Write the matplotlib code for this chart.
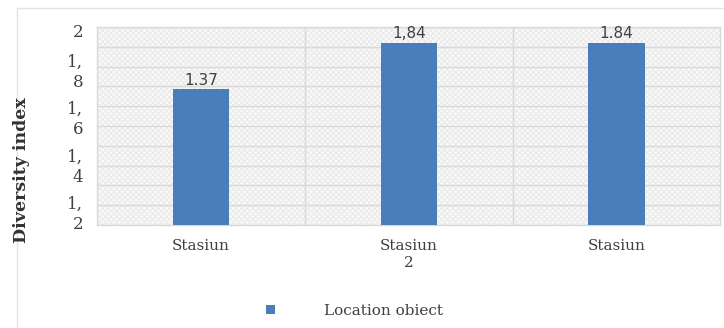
import numpy as np
import matplotlib
matplotlib.use("Agg")
import matplotlib.pyplot as plt
from matplotlib.patches import Rectangle

# -----------------------------
# Data
# -----------------------------
stations = ["Stasiun", "Stasiun\n2", "Stasiun"]
diversity = [1.37, 1.84, 1.84]
value_labels = ["1.37", "1,84", "1.84"]

# tick labels as printed on the source chart (wrapped text)
ytick_labels = ["2", "1,\n8", "1,\n6", "1,\n4", "1,\n2"]
ytick_pos = [1.96, 1.58, 1.10, 0.62, 0.14]

BAR_COLOR = "#4a7ebb"
TEXT_COLOR = "#404040"
GRID_COLOR = "#d9d9d9"

plt.rcParams["font.family"] = ["DejaVu Serif"]

# -----------------------------
# Plot
# -----------------------------
fig = plt.figure(figsize=(7.24, 3.28), dpi=100)
ax = fig.add_axes([0.134, 0.314, 0.861, 0.604])

# outer chart frame
fig.patches.append(Rectangle((0.024, -0.05), 1.0, 1.025, transform=fig.transFigure,
                             fill=False, edgecolor="#e3e3e3", linewidth=1.0))

# hatched plot background
ax.add_patch(Rectangle((0, 0), 1, 1, transform=ax.transAxes, facecolor="#fbfbfb",
                       hatch="xxxxxx", edgecolor="#ebebeb", linewidth=0, zorder=0))

x = np.arange(len(stations))
bars = ax.bar(x, diversity, width=0.27, color=BAR_COLOR, zorder=3,
              label="Location obiect")

for xi, v, lab in zip(x, diversity, value_labels):
    ax.text(xi, v + 0.015, lab, ha="center", va="bottom", fontsize=11,
            color=TEXT_COLOR, family="DejaVu Sans")

ax.set_xlim(-0.5, 2.5)
ax.set_ylim(0, 2)

# grid: horizontal every 0.2, vertical between categories
ax.set_yticks(np.arange(0, 2.01, 0.2))
ax.set_yticklabels([])
ax.set_yticks(ytick_pos, minor=True)
ax.set_yticklabels(ytick_labels, minor=True, fontsize=12, color=TEXT_COLOR,
                   linespacing=1.25)
ax.tick_params(axis="y", which="both", length=0, pad=10)
ax.grid(axis="y", which="major", color=GRID_COLOR, linewidth=1.0, zorder=1)
for xv in [0.5, 1.5]:
    ax.axvline(xv, color=GRID_COLOR, linewidth=1.0, zorder=1)

ax.set_xticks(x)
ax.set_xticklabels(stations, fontsize=11, color=TEXT_COLOR, va="top", linespacing=1.3)
ax.tick_params(axis="x", length=0, pad=10)

for s in ax.spines.values():
    s.set_color(GRID_COLOR)
    s.set_linewidth(1.0)

fig.text(0.03, 0.48, "Diversity index", rotation=90, ha="center", va="center",
         fontsize=12.5, fontweight="bold", color="#333333")

leg = fig.legend(handles=[bars], loc="center", bbox_to_anchor=(0.489, 0.052),
                 frameon=False, fontsize=11, handlelength=0.6, handleheight=0.6,
                 handletextpad=3.2, labelcolor=TEXT_COLOR)

fig.savefig("out.png", dpi=100)
